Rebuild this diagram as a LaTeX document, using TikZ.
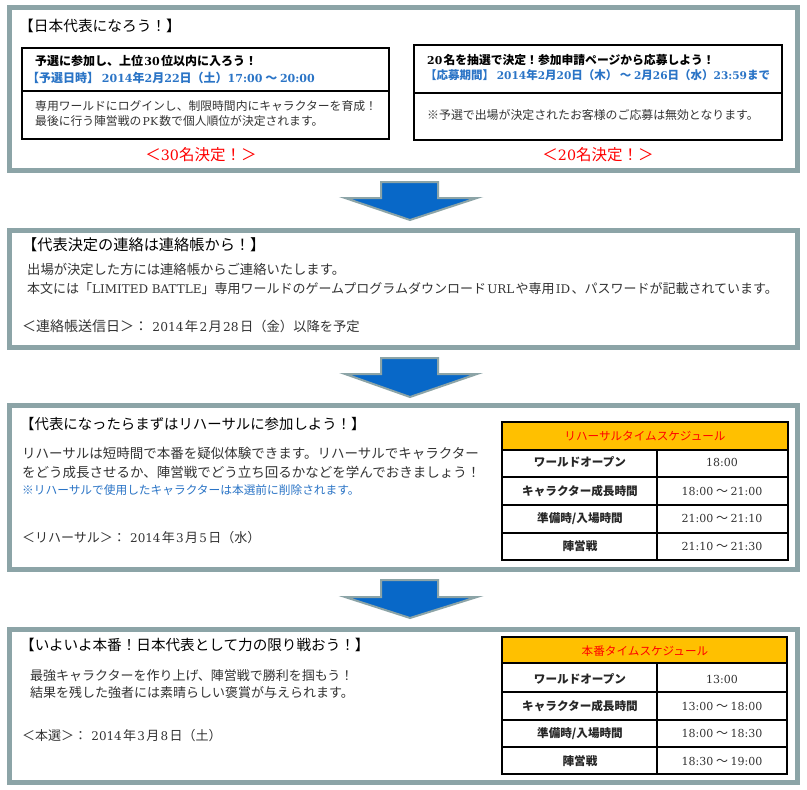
\documentclass[tikz,border=0pt]{standalone}
\usepackage{fontspec}
\setmainfont{Noto Sans CJK JP}
\newfontfamily\sr{DejaVu Serif}[Scale=0.92]
\newcommand\ltz[1]{{\sr #1}}
\newcommand\ltn[1]{\hspace{1.3pt}{\sr #1}\hspace{1.3pt}}
\definecolor{panelgray}{HTML}{8CA4A7}
\definecolor{arrowblue}{HTML}{0868C8}
\definecolor{txtblue}{HTML}{2A74C6}
\definecolor{gold}{HTML}{FFC000}
\tikzset{
  panel/.style={draw=panelgray, line width=5pt},
  inbox/.style={draw=black, line width=2pt},
  blockarrow/.style={fill=arrowblue, draw=panelgray, line width=2pt, line join=miter},
  txt/.style={anchor=west, inner sep=0pt, text height=0.8em, text depth=0.2em},
  ctxt/.style={anchor=center, inner sep=0pt, text height=0.8em, text depth=0.2em},
  grid/.style={draw=black, line width=1.8pt},
  title/.style={txt, font=\fontsize{14.7}{16}\selectfont},
  body/.style={txt, font=\fontsize{13.3}{14}\selectfont, text=black!80},
  cell/.style={ctxt, font=\bfseries\fontsize{11.6}{14}\selectfont, text=black!85},
  tcell/.style={ctxt, font=\fontsize{12}{14}\selectfont, text=black!80},
  redlbl/.style={ctxt, font=\fontsize{15.5}{16}\selectfont, text=red},
}
\newcommand\tld{\hspace{2.5pt}～\hspace{2.5pt}}
\begin{document}
\begin{tikzpicture}[x=1pt,y=-1pt]
\useasboundingbox (0,0) rectangle (807,790);
\fill[white] (0,0) rectangle (807,790);

% ---------- Panel 1 ----------
\draw[panel] (9.5,7.5) rectangle (797,170.5);
\node[title] (t1) at (19,28) {【日本代表になろう！】};
% left inner box
\draw[inbox] (22,48) rectangle (389,139);
\draw[inbox] (22,91) -- (389,91);
\node[txt, font=\bfseries\fontsize{12}{14}\selectfont] (l1) at (35,62) {予選に参加し、上位\ltn{30}位以内に入ろう！};
\node[txt, font=\bfseries\fontsize{12}{14}\selectfont, text=txtblue] (l2) at (27,79) {【予選日時】 \ltz{2014}年\ltz{2}月\ltz{22}日（土）\ltz{17:00} ～ \ltz{20:00}};
\node[body, font=\fontsize{11.8}{14}\selectfont] (l3) at (35,107) {専用ワールドにログインし、制限時間内にキャラクターを育成！};
\node[body, font=\fontsize{11.8}{14}\selectfont] (l4) at (35,122) {最後に行う陣営戦の\ltn{PK}数で個人順位が決定されます。};
\node[redlbl] (r1) at (201,157) {＜\ltz{30}名決定！＞};
% right inner box
\draw[inbox] (414,45) rectangle (782,140);
\draw[inbox] (414,93) -- (782,93);
\node[txt, font=\bfseries\fontsize{11.8}{14}\selectfont] (m1) at (427,61) {\ltz{20}\hspace{1.3pt}名を抽選で決定！参加申請ページから応募しよう！};
\node[txt, font=\bfseries\fontsize{11.5}{14}\selectfont, text=txtblue] (m2) at (425,76) {【応募期間】 \ltz{2014}年\ltz{2}月\ltz{20}日（木） ～ \ltz{2}月\ltz{26}日（水）\ltz{23:59}まで};
\node[body, font=\fontsize{11.9}{14}\selectfont] (m3) at (427,116) {※予選で出場が決定されたお客様のご応募は無効となります。};
\node[redlbl] (r2) at (598,157) {＜\ltz{20}名決定！＞};

% ---------- Arrow 1 ----------
\draw[blockarrow] (381,182) -- (438,182) -- (438,198) -- (477,198) -- (410,220) -- (345,198) -- (381,198) -- cycle;

% ---------- Panel 2 ----------
\draw[panel] (9.5,230.5) rectangle (797,347.5);
\node[title, font=\fontsize{15.2}{16}\selectfont] (t2) at (22,247) {【代表決定の連絡は連絡帳から！】};
\node[body] (b21) at (27,271) {出場が決定した方には連絡帳からご連絡いたします。};
\node[body, font=\fontsize{13}{14}\selectfont] (b22) at (27,290) {本文には「\ltz{LIMITED BATTLE}」専用ワールドのゲームプログラムダウンロード\ltn{URL}や専用\ltn{ID}、パスワードが記載されています。};
\node[body] (b23) at (22,328) {{\fontsize{14}{14}\selectfont ＜連絡帳送信日＞：} \ltn{2014}年\ltn{2}月\ltn{28}日（金）以降を予定};

% ---------- Arrow 2 ----------
\draw[blockarrow] (381,358) -- (438,358) -- (438,374) -- (477,374) -- (410,397) -- (345,374) -- (381,374) -- cycle;

% ---------- Panel 3 ----------
\draw[panel] (9.5,405.5) rectangle (797,569.5);
\node[title, font=\fontsize{14.4}{16}\selectfont] (t3) at (20,426) {【代表になったらまずはリハーサルに参加しよう！】};
\node[body, font=\fontsize{13.5}{14}\selectfont] (b31) at (22,455) {リハーサルは短時間で本番を疑似体験できます。リハーサルでキャラクター};
\node[body, font=\fontsize{13.5}{14}\selectfont] (b32) at (22,474) {をどう成長させるか、陣営戦でどう立ち回るかなどを学んでおきましょう！};
\node[body, font=\fontsize{11.7}{14}\selectfont, text=txtblue] (b33) at (22,491) {※リハーサルで使用したキャラクターは本選前に削除されます。};
\node[body, font=\fontsize{13}{14}\selectfont] (b34) at (22,539) {＜リハーサル＞： \ltn{2014}年\ltn{3}月\ltn{5}日（水）};
% table 3
\fill[gold] (502,422) rectangle (788,450);
\draw[grid] (502,422) rectangle (788,560);
\foreach \yy in {450,477,505,533} \draw[grid] (502,\yy) -- (788,\yy);
\draw[grid] (657,450) -- (657,560);
\node[ctxt, font=\fontsize{11.6}{14}\selectfont, text=red] (h3) at (645,437) {リハーサルタイムスケジュール};
\node[cell] (a31) at (580,463) {ワールドオープン};
\node[tcell] (c31) at (722,463) {\ltz{18:00}};
\node[cell] (a32) at (580,492) {キャラクター成長時間};
\node[tcell] (c32) at (722,492) {\ltz{18:00}\tld\ltz{21:00}};
\node[cell] (a33) at (580,519) {準備時/入場時間};
\node[tcell] (c33) at (722,519) {\ltz{21:00}\tld\ltz{21:10}};
\node[cell] (a34) at (580,547) {陣営戦};
\node[tcell] (c34) at (722,547) {\ltz{21:10}\tld\ltz{21:30}};

% ---------- Arrow 3 ----------
\draw[blockarrow] (381,580) -- (438,580) -- (438,597) -- (477,597) -- (410,618) -- (345,597) -- (381,597) -- cycle;

% ---------- Panel 4 ----------
\draw[panel] (9.5,629.5) rectangle (797,782.5);
\node[title, font=\fontsize{14.6}{16}\selectfont] (t4) at (20,647) {【いよいよ本番！日本代表として力の限り戦おう！】};
\node[body, font=\fontsize{13}{14}\selectfont] (b41) at (30,677) {最強キャラクターを作り上げ、陣営戦で勝利を掴もう！};
\node[body, font=\fontsize{13}{14}\selectfont] (b42) at (30,694) {結果を残した強者には素晴らしい褒賞が与えられます。};
\node[body, font=\fontsize{13}{14}\selectfont] (b43) at (22,737) {＜本選＞： \ltn{2014}年\ltn{3}月\ltn{8}日（土）};
% table 4
\fill[gold] (502,637) rectangle (787,663);
\draw[grid] (502,637) rectangle (787,774);
\foreach \yy in {663,692,720,747} \draw[grid] (502,\yy) -- (787,\yy);
\draw[grid] (657,663) -- (657,774);
\node[ctxt, font=\fontsize{11.6}{14}\selectfont, text=red] (h4) at (645,652) {本番タイムスケジュール};
\node[cell] (a41) at (580,680) {ワールドオープン};
\node[tcell] (c41) at (722,680) {\ltz{13:00}};
\node[cell] (a42) at (580,707) {キャラクター成長時間};
\node[tcell] (c42) at (722,707) {\ltz{13:00}\tld\ltz{18:00}};
\node[cell] (a43) at (580,734) {準備時/入場時間};
\node[tcell] (c43) at (722,734) {\ltz{18:00}\tld\ltz{18:30}};
\node[cell] (a44) at (580,762) {陣営戦};
\node[tcell] (c44) at (722,762) {\ltz{18:30}\tld\ltz{19:00}};
\end{tikzpicture}
\end{document}
